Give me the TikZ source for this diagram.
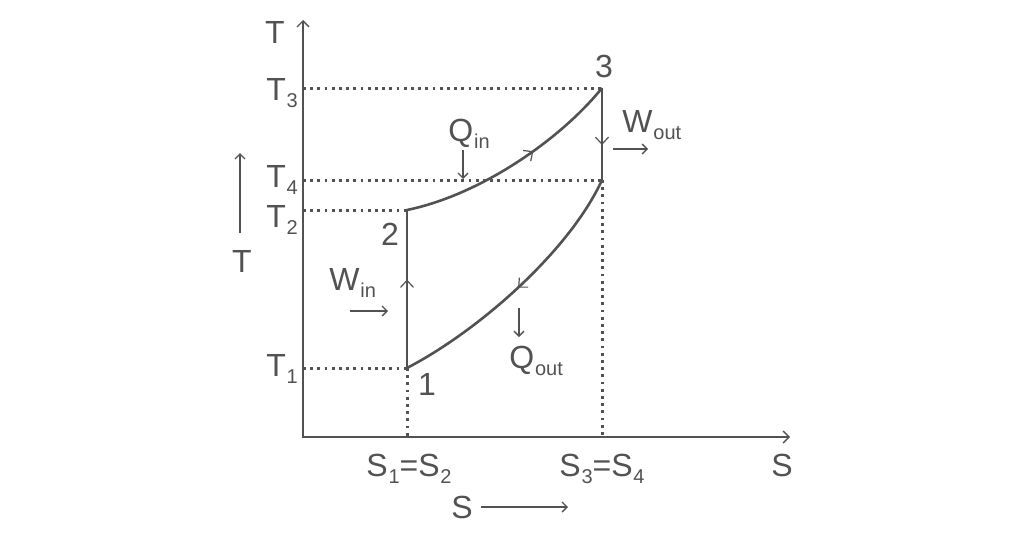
\documentclass[tikz,border=0pt]{standalone}
\usepackage{fontspec}
\setmainfont{Liberation Sans}
\usetikzlibrary{arrows,arrows.meta,positioning,decorations.markings}
\definecolor{inkgray}{gray}{0.32}
\newcommand{\lsub}[1]{\kern0.4pt\raisebox{-3.5pt}{\fontsize{10}{10}\selectfont #1}}
\tikzset{midarrow/.style={postaction={decorate}, decoration={markings, mark=at position #1 with {\arrow[inkgray, line width=0.6pt]{Straight Barb[length=3.5pt,width=6.5pt]}}}}}

\begin{document}
\begin{tikzpicture}[x=0.5pt,y=-0.5pt]
                \tikzstyle{every node}+=[inner sep=0pt, text=inkgray, font=\fontsize{16}{18}\selectfont]
                \tikzstyle{axisline}=[draw=inkgray, line width=1.4pt, {Straight Barb[length=3pt,width=6pt,line width=0.7pt]}-{Straight Barb[length=3pt,width=6pt,line width=0.7pt]}]
                \tikzstyle{dotline}=[draw=inkgray, line width=1.5pt, dash pattern=on 1.4pt off 2.2pt]
                \tikzstyle{cycleline}=[draw=inkgray, line width=1.3pt]
                \tikzstyle{flowarrow}=[draw=inkgray, line width=0.7pt, -{Straight Barb[length=2.5pt,width=5pt]}]
                \useasboundingbox (0,0) rectangle (1024,536);
                \coordinate (o) at (303,437);
                \coordinate (ytop) at (303,20);
                \coordinate (xend) at (790,437);
                \coordinate (p1) at (407,368);
                \coordinate (p2) at (407,210);
                \coordinate (p3) at (602,88);
                \coordinate (p4) at (602,180);
                \draw [dotline] (o |- p3) -- (p3);
                \draw [dotline] (o |- p4) -- (p4);
                \draw [dotline] (o |- p2) -- (p2);
                \draw [dotline] (o |- p1) -- (p1);
                \draw [dotline] (p1) -- (p1 |- o);
                \draw [dotline] (p4) -- (p4 |- o);
                \draw [axisline] (ytop) -- (o) -- (xend);
                \draw [cycleline, midarrow=0.56] (p1) -- (p2);
                \draw [cycleline, midarrow=0.6] (p2) .. controls (480,195) and (560,140) .. (p3);
                \draw [cycleline, midarrow=0.62] (p3) -- (p4);
                \draw [cycleline, midarrow=0.5] (p4) .. controls (570,250) and (480,330) .. (p1);
                \node [anchor=base] (taxis) at (275,43) {T};
                \node [anchor=base west] (t3) at (266,100) {T\lsub{3}};
                \node [anchor=base west] (t4) at (266,187) {T\lsub{4}};
                \node [anchor=base west] (t2) at (266,227) {T\lsub{2}};
                \node [anchor=base west] (t1) at (266,376) {T\lsub{1}};
                \node [anchor=base] (n3) at (604,77) {3};
                \node [anchor=base] (n2) at (390,245) {2};
                \node [anchor=base] (n1) at (427,395) {1};
                \node [anchor=base west] (qin) at (448,141) {Q\lsub{in}};
                \node [anchor=base west] (wout) at (622,132) {W\lsub{out}};
                \node [anchor=base west] (win) at (329,290) {W\lsub{in}};
                \node [anchor=base west] (qout) at (509,368) {Q\lsub{out}};
                \node [anchor=base] (s12) at (409,476) {S\lsub{1}=S\lsub{2}};
                \node [anchor=base] (s34) at (602,476) {S\lsub{3}=S\lsub{4}};
                \node [anchor=base] (saxis) at (782,476) {S};
                \node [anchor=base] (sdir) at (462,518) {S};
                \node [anchor=base] (tdir) at (242,272) {T};
                \coordinate (qin a) at (463,150);
                \coordinate (qin b) at (463,179);
                \coordinate (wout a) at (613,149);
                \coordinate (wout b) at (648,149);
                \coordinate (win a) at (350,311);
                \coordinate (win b) at (388,311);
                \coordinate (qout a) at (519,308);
                \coordinate (qout b) at (519,337);
                \coordinate (sdir a) at (481,507);
                \coordinate (sdir b) at (568,507);
                \coordinate (tdir a) at (240,233);
                \coordinate (tdir b) at (240,153);
                \draw [flowarrow] (qin a) -- (qin b);
                \draw [flowarrow] (wout a) -- (wout b);
                \draw [flowarrow] (win a) -- (win b);
                \draw [flowarrow] (qout a) -- (qout b);
                \draw [flowarrow] (sdir a) -- (sdir b);
                \draw [flowarrow] (tdir a) -- (tdir b);
\end{tikzpicture}
\end{document}
